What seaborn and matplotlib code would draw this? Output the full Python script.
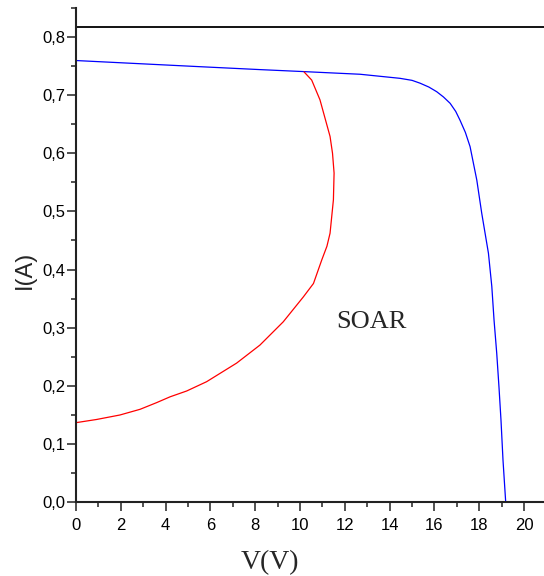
"""I-V curve with SOAR boundary, redrawn with seaborn."""

import matplotlib

matplotlib.use("Agg")
import matplotlib.pyplot as plt
import pandas as pd
import seaborn as sns
from matplotlib.ticker import FixedLocator, MultipleLocator

# blue I-V characteristic
iv_voltage = [0.0, 5.54, 8.21, 10.15, 12.68, 14.46, 15.0, 15.36, 15.75, 16.1,
              16.4, 16.7, 16.95, 17.14, 17.38, 17.59, 17.89, 18.11, 18.41,
              18.56, 18.66, 18.78, 18.88, 18.97, 19.06, 19.18]
iv_current = [0.7596, 0.749, 0.744, 0.7406, 0.736, 0.729, 0.7255, 0.7206,
              0.714, 0.706, 0.697, 0.686, 0.672, 0.657, 0.636, 0.6115, 0.554,
              0.497, 0.428, 0.371, 0.313, 0.256, 0.198, 0.141, 0.072, 0.0]

# red SOAR boundary (ordered along the curve, not by V)
soar_voltage = [0.0, 0.92, 1.96, 2.86, 3.6, 4.2, 4.94, 5.83, 7.17, 8.21, 9.25,
                10.15, 10.6, 10.97, 11.2, 11.34, 11.49, 11.52, 11.45, 11.34,
                10.89, 10.52, 10.18]
soar_current = [0.1365, 0.142, 0.1497, 0.1595, 0.171, 0.181, 0.191, 0.207,
                0.239, 0.270, 0.310, 0.353, 0.376, 0.4165, 0.44, 0.4625, 0.52,
                0.566, 0.60, 0.629, 0.692, 0.726, 0.740]

ref_current = 0.817

x_ticks = [0, 2, 4, 6, 8, 10, 12, 14, 16, 18, 20]
y_ticks = [0.0, 0.1, 0.2, 0.3, 0.4, 0.5, 0.6, 0.7, 0.8]
y_tick_labels = ["0,0", "0,1", "0,2", "0,3", "0,4", "0,5", "0,6", "0,7", "0,8"]

sns.set_style("ticks")
plt.rcParams["font.family"] = ["Liberation Sans", "DejaVu Sans"]

iv_df = pd.DataFrame({"V": iv_voltage, "I": iv_current})
soar_df = pd.DataFrame({"V": soar_voltage, "I": soar_current})

fig = plt.figure(figsize=(5.44, 5.76), dpi=100)
ax = fig.add_axes([76 / 544, 1 - 502 / 576, 468 / 544, 494 / 576])

sns.lineplot(data=iv_df, x="V", y="I", color="#0000ff", lw=0.9,
             sort=False, estimator=None, ax=ax)
sns.lineplot(data=soar_df, x="V", y="I", color="#ff0000", lw=0.9,
             sort=False, estimator=None, ax=ax)
ax.axhline(ref_current, color="black", lw=1.3)

ax.set_xlim(0, 20.89)
ax.set_ylim(0, 0.850)

ax.xaxis.set_major_locator(FixedLocator(x_ticks))
ax.set_xticklabels([str(t) for t in x_ticks])
ax.xaxis.set_minor_locator(MultipleLocator(1))
ax.yaxis.set_major_locator(FixedLocator(y_ticks))
ax.set_yticklabels(y_tick_labels)
ax.yaxis.set_minor_locator(MultipleLocator(0.05))

ax.tick_params(which="major", direction="out", length=6.5, width=1.1,
               color="#222222", labelsize=12, labelcolor="black")
ax.tick_params(which="minor", direction="out", length=3.6, width=1.1,
               color="#222222")
ax.tick_params(axis="x", which="major", pad=5)
ax.tick_params(axis="y", which="major", pad=1)

for side in ("top", "right"):
    ax.spines[side].set_visible(False)
for side in ("left", "bottom"):
    ax.spines[side].set_linewidth(1.5)
    ax.spines[side].set_color("#222222")

ax.set_xlabel("V(V)", family=["Liberation Serif", "DejaVu Serif"], fontsize=20)
ax.set_ylabel("I(A)", fontsize=17)
ax.xaxis.set_label_coords(0.415, -0.097)
ax.yaxis.set_label_coords(-0.086, 0.47)

ax.text(13.2, 0.31, "SOAR", family=["Liberation Serif", "DejaVu Serif"],
        fontsize=19, ha="center", va="center")

fig.savefig("out.png", dpi=100)
